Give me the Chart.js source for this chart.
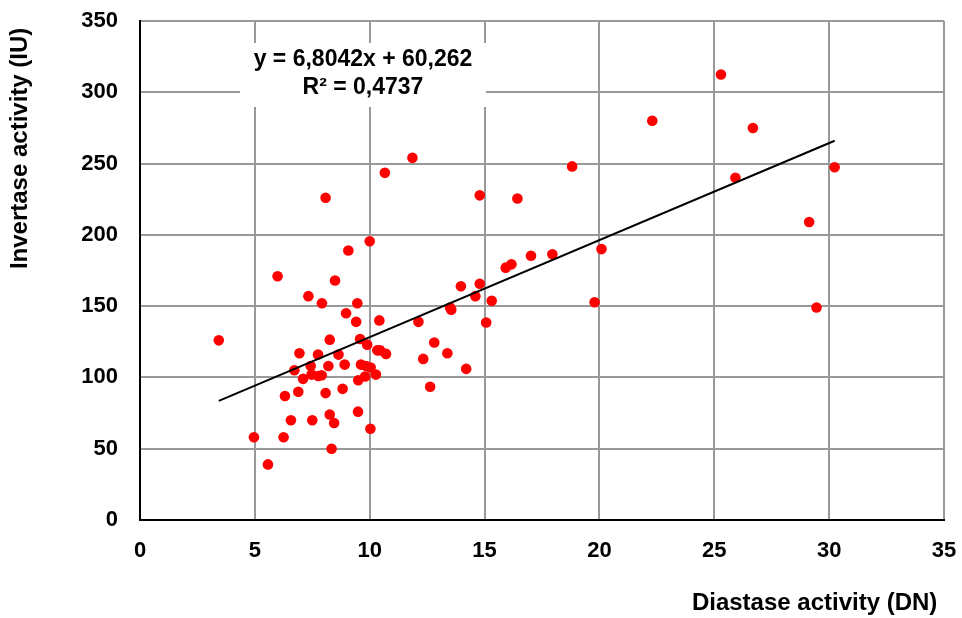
<!DOCTYPE html>
<html>
<head>
<meta charset="utf-8">
<script src="https://cdn.jsdelivr.net/npm/chart.js@4.4.1/dist/chart.umd.min.js"></script>
<style>
  html, body { margin: 0; padding: 0; background: #fff; }
  #wrap { width: 962px; height: 618px; }
</style>
</head>
<body>
<div id="wrap"><canvas id="c" width="962" height="618"></canvas></div>
<script>
// Diastase activity (DN)
const diastase = [
  3.43, 4.96, 5.57, 5.99, 6.25, 6.31, 6.57, 6.72, 6.89, 6.94,
  7.10, 7.33, 7.43, 7.47, 7.50, 7.75, 7.76, 7.91, 7.92, 8.08,
  8.08, 8.20, 8.26, 8.26, 8.34, 8.45, 8.49, 8.64, 8.82, 8.91,
  8.97, 9.07, 9.41, 9.46, 9.49, 9.50, 9.58, 9.62, 9.80, 9.84,
  9.89, 10.00, 10.03, 10.04, 10.27, 10.33, 10.45, 10.42, 10.66, 10.71,
  11.86, 12.12, 12.33, 12.63, 12.81, 13.38, 13.50, 13.55, 13.97, 14.20,
  14.60, 14.79, 14.79, 15.07, 15.31, 15.92, 16.17, 16.43, 17.02, 17.95,
  18.81, 19.79, 20.09, 22.30, 25.29, 25.92, 26.68, 29.13, 29.45, 30.24
];
// Invertase activity (IU)
const invertase = [
  126, 58, 39, 171, 58, 87, 70, 105, 90, 117,
  99, 157, 108, 102, 70, 116, 101, 101.5, 152, 226,
  89, 108, 126.5, 74, 50, 68, 168, 116, 92, 109,
  145, 189, 139, 152, 76, 98, 127, 109, 100.6, 108,
  123, 195.5, 64, 107, 102, 119, 119, 140, 243.5, 116.5,
  254, 139, 113, 93.5, 124.5, 117, 149, 147.5, 164, 106,
  157, 165.7, 227.7, 138.5, 153.7, 177, 179.3, 225.5, 185.3, 186.4,
  248, 152.7, 190, 280, 312.5, 240, 275, 209, 149, 247.4
];
// Linear trendline shown on the chart
const trendSlope = 6.8042;
const trendIntercept = 60.262;
const trendLabel = ["y = 6,8042x + 60,262", "R² = 0,4737"];
const xTicks = [0, 5, 10, 15, 20, 25, 30, 35];
const yTicks = [0, 50, 100, 150, 200, 250, 300, 350];

const points = diastase.map((x, i) => ({ x: x, y: invertase[i] }));
const xMin = Math.min(...diastase), xMax = Math.max(...diastase);
const trend = [
  { x: xMin, y: trendSlope * xMin + trendIntercept },
  { x: xMax, y: trendSlope * xMax + trendIntercept }
];

const FONT = "'Liberation Sans', Arial, sans-serif";

const eqPlugin = {
  id: 'eqLabel',
  afterDatasetsDraw(chart) {
    const ctx = chart.ctx;
    const a = chart.chartArea;
    const cx = a.left + 223;
    const top = a.top + 22;
    ctx.save();
    ctx.fillStyle = '#ffffff';
    ctx.fillRect(cx - 123, top, 246, 64);
    ctx.fillStyle = '#000000';
    ctx.font = "bold 23px " + FONT;
    ctx.textAlign = 'center';
    ctx.textBaseline = 'middle';
    ctx.fillText(trendLabel[0], cx, top + 17);
    ctx.fillText(trendLabel[1], cx, top + 45);
    ctx.restore();
  }
};

new Chart(document.getElementById('c'), {
  type: 'scatter',
  data: {
    datasets: [
      {
        label: 'Data',
        data: points,
        pointRadius: 5.3,
        pointBackgroundColor: '#ff0000',
        pointBorderWidth: 0,
        pointBorderColor: '#ff0000',
        showLine: false,
        order: 2
      },
      {
        label: 'Trend',
        data: trend,
        showLine: true,
        borderColor: '#000000',
        borderWidth: 2,
        pointRadius: 0,
        fill: false,
        order: 1
      }
    ]
  },
  options: {
    responsive: false,
    animation: false,
    events: [],
    layout: { padding: { left: 0, right: 18, top: 21, bottom: 0 } },
    plugins: {
      legend: { display: false },
      tooltip: { enabled: false }
    },
    scales: {
      x: {
        type: 'linear',
        min: 0, max: 35,
        afterBuildTicks: s => { s.ticks = xTicks.map(v => ({ value: v })); },
        afterFit: s => { s.height = 98; s.paddingLeft = 0; s.paddingRight = 0; },
        grid: { color: '#999999', lineWidth: 2, drawTicks: false },
        border: { color: '#000000', width: 2 },
        ticks: {
          padding: 18,
          color: '#000',
          font: { family: FONT, size: 22, weight: 'bold' }
        },
        title: {
          display: true,
          text: 'Diastase activity (DN) ',
          align: 'end',
          color: '#000',
          padding: { top: 0, bottom: 0 },
          font: { family: FONT, size: 24, weight: 'bold' }
        }
      },
      y: {
        type: 'linear',
        min: 0, max: 350,
        afterBuildTicks: s => { s.ticks = yTicks.map(v => ({ value: v })); },
        afterFit: s => { s.width = 140; s.paddingTop = 0; s.paddingBottom = 0; },
        grid: { color: '#999999', lineWidth: 2, drawTicks: false },
        border: { color: '#000000', width: 2 },
        ticks: {
          padding: 22,
          color: '#000',
          font: { family: FONT, size: 22, weight: 'bold' }
        },
        title: {
          display: true,
          text: 'Invertase activity (IU) ',
          align: 'end',
          color: '#000',
          padding: { top: 6, bottom: 0 },
          font: { family: FONT, size: 24, weight: 'bold' }
        }
      }
    }
  },
  plugins: [eqPlugin]
});
</script>
</body>
</html>
